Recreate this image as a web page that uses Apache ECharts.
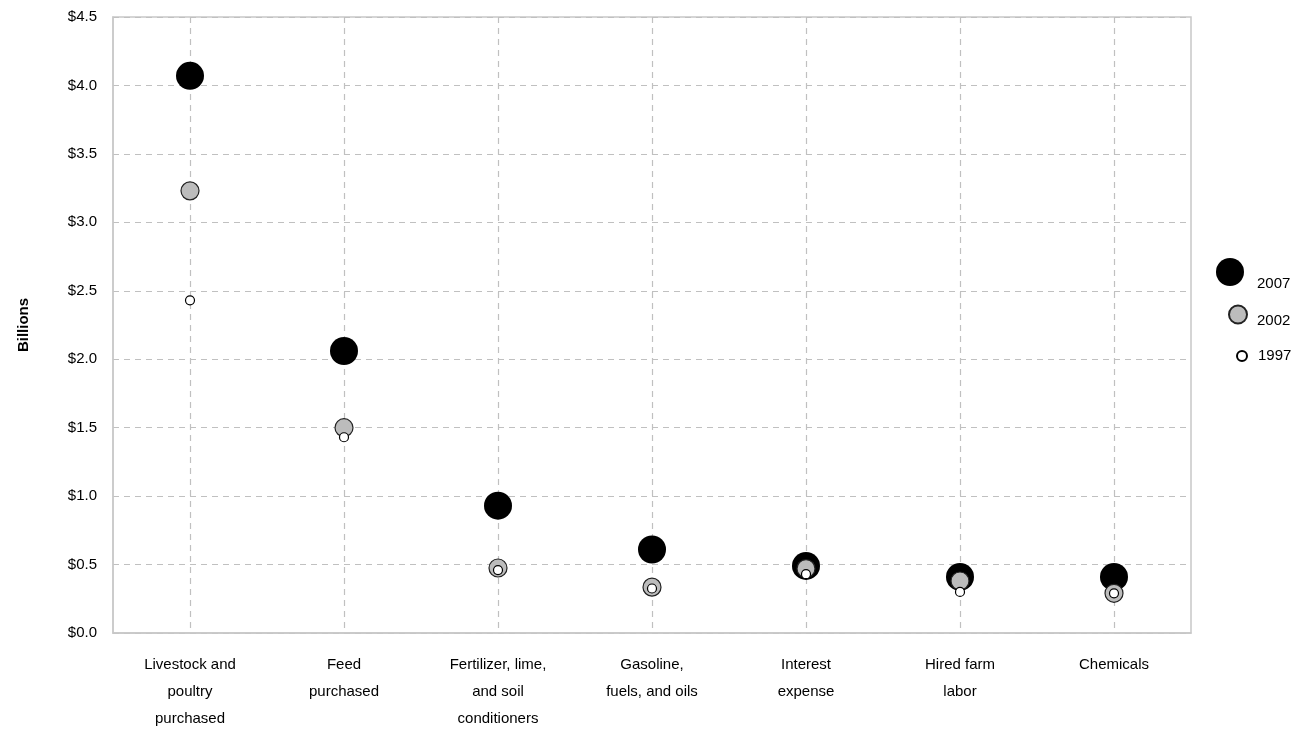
<!DOCTYPE html>
<html>
<head>
<meta charset="utf-8">
<script src="https://cdn.jsdelivr.net/npm/echarts@6/dist/echarts.min.js"></script>
<style>html,body{margin:0;padding:0;background:#fff;}#c{width:1315px;height:732px;}</style>
</head>
<body>
<div id="c"></div>
<script>
var categories = ["Livestock and\npoultry\npurchased", "Feed\npurchased", "Fertilizer, lime,\nand soil\nconditioners", "Gasoline,\nfuels, and oils", "Interest\nexpense", "Hired farm\nlabor", "Chemicals"];
var s2007 = [4.07, 2.06, 0.93, 0.61, 0.49, 0.41, 0.41];
var s2002 = [3.23, 1.50, 0.475, 0.335, 0.47, 0.38, 0.29];
var s1997 = [2.43, 1.43, 0.46, 0.325, 0.43, 0.30, 0.29];
var yTicks = [0, 0.5, 1.0, 1.5, 2.0, 2.5, 3.0, 3.5, 4.0, 4.5];

var font = "Liberation Sans, Arial, sans-serif";
var chart = echarts.init(document.getElementById('c'));
function lg(name, top, left, w, h, padLeft, lh) {
  return {
    data: [name], orient: 'vertical', top: top, left: left,
    itemWidth: w, itemHeight: h, itemGap: 0,
    formatter: lh ? '\n{name}' : '{name}',
    textStyle: { fontFamily: font, fontSize: 15, color: '#000', padding: [0, 0, 0, padLeft], lineHeight: lh || 18 },
    selectedMode: false
  };
}
chart.setOption({
  animation: false,
  legend: [
    lg('2007', 243, 1211, 28, 28, 8, 24),
    lg('2002', 296, 1223, 18, 18, 5, 12),
    lg('1997', 342, 1231, 10, 10, 6, 0)
  ],
  grid: { left: 113, top: 17, right: 124, bottom: 99, show: true, borderColor: '#c8c8c8', borderWidth: 1.5 },
  xAxis: {
    type: 'category', data: categories, boundaryGap: true,
    axisLine: { lineStyle: { color: '#c8c8c8', width: 1.5 } },
    axisTick: { show: false },
    axisLabel: { fontFamily: font, fontSize: 15, color: '#000', lineHeight: 27, margin: 18, interval: 0 },
    splitLine: { show: true, alignWithLabel: true, lineStyle: { color: '#c0c0c0', type: [6, 5], width: 1.2 } }
  },
  yAxis: {
    type: 'value', min: 0, max: 4.5, interval: 0.5,
    name: 'Billions', nameLocation: 'middle', nameGap: 82, nameRotate: 90,
    nameTextStyle: { fontFamily: font, fontSize: 15, fontWeight: 'bold', color: '#000' },
    axisLine: { show: true, lineStyle: { color: '#c8c8c8', width: 1.5 } },
    axisTick: { show: false },
    axisLabel: { fontFamily: font, fontSize: 15, color: '#000', margin: 16,
      formatter: function (v) { return '$' + v.toFixed(1); } },
    splitLine: { show: true, lineStyle: { color: '#c0c0c0', type: [6, 5], width: 1.2 } }
  },
  series: [
    { name: '2007', type: 'scatter', data: s2007, symbol: 'circle', symbolSize: 28,
      itemStyle: { color: '#000', borderColor: '#000', borderWidth: 0, opacity: 1 }, z: 2 },
    { name: '2002', type: 'scatter', data: s2002, symbol: 'circle', symbolSize: 18,
      itemStyle: { color: '#bcbcbc', borderColor: '#222', borderWidth: 1.2, opacity: 1 }, z: 3 },
    { name: '1997', type: 'scatter', data: s1997, symbol: 'circle', symbolSize: 9,
      itemStyle: { color: '#fff', borderColor: '#000', borderWidth: 1.2, opacity: 1 }, z: 4 }
  ]
});
</script>
</body>
</html>
